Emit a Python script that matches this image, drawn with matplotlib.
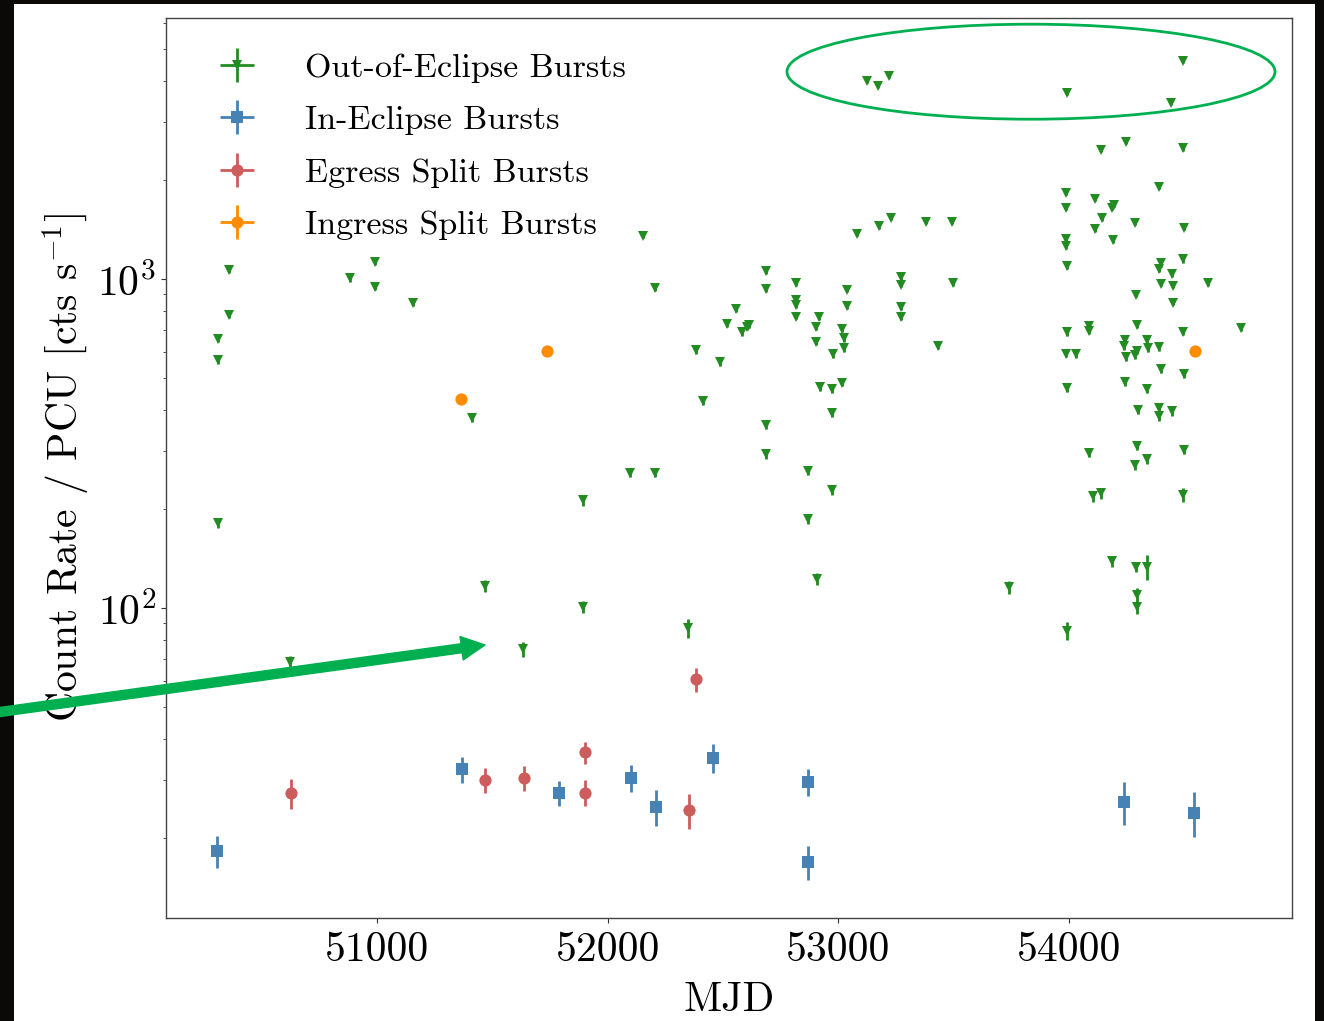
import matplotlib
matplotlib.use('Agg')
import matplotlib.pyplot as plt
from matplotlib.patches import Ellipse, Rectangle, FancyArrowPatch

# ---------------- data ----------------
green_mjd = [
    50309, 50309, 50357, 50357, 50309, 50623, 50884, 50991, 50991, 51157,
    51411, 51468, 51632, 51895, 51895, 52097, 52206, 52152, 52206, 52350,
    52382, 52415, 52488, 52517, 52556, 52615, 52603, 52584, 52687, 52687,
    52686, 52686, 52819, 52819, 52819, 52819, 52868, 52868, 52908, 52917,
    52904, 52904, 52923, 52972, 53015, 52972, 52973, 52976, 53015, 53027,
    53027, 53039, 53039, 53083, 53178, 53228, 53379, 53494, 53272, 53272,
    53272, 53274, 53497, 53432, 53742, 53989, 53989, 53990, 53989, 53991,
    53993, 53989, 54032, 53991, 53991, 54088, 54088, 54089, 54104, 54140,
    54115, 54115, 54140, 54144, 54188, 54198, 54191, 54186, 54242, 54239,
    54247, 54242, 54248, 54287, 54292, 54297, 54296, 54287, 54298, 54295,
    54287, 54292, 54295, 54295, 54338, 54345, 54340, 54339, 54338, 54392,
    54392, 54399, 54392, 54449, 54497, 54399, 54451, 54603, 54451, 54400,
    54501, 54392, 54392, 54449, 54498, 54495, 54497, 54501, 54495, 54746,
    53126, 53172, 53221, 53991, 54497, 54442]
green_rate = [
    659, 568, 1067, 779, 182, 68.5, 1007, 1131, 946, 845,
    380, 117, 75.0, 213, 101, 258, 258, 1357, 939, 86.9,
    610, 427, 559, 731, 811, 726, 717, 690, 1062, 932,
    361, 294, 972, 868, 834, 771, 262, 187, 123, 770,
    717, 646, 470, 463, 485, 393, 229, 593, 705, 662,
    617, 931, 829, 1375, 1452, 1541, 1496, 1496, 1016, 961,
    823, 770, 972, 628, 116, 1825, 1651, 1322, 1265, 1098,
    690, 594, 593, 466, 85.5, 721, 699, 297, 219, 224,
    1752, 1419, 2478, 1532, 1653, 1688, 1318, 139, 652, 626,
    579, 487, 2619, 1486, 896, 729, 607, 587, 401, 311,
    272, 134, 110, 101, 652, 617, 465, 284, 134, 1904,
    622, 1118, 1075, 1040, 1150, 970, 954, 972, 850, 533,
    515, 406, 383, 397, 304, 221, 2501, 1434, 691, 712,
    4006, 3869, 4150, 3692, 4617, 3441]
green_err = [
    15, 15, 25, 15, 6, 3, 25, 25, 15, 15,
    12, 5, 3.8, 8, 4.3, 8, 8, 25, 15, 5.6,
    15, 12, 15, 15, 15, 15, 15, 15, 25, 15,
    10, 9, 15, 15, 15, 15, 8, 7, 5.5, 15,
    15, 15, 12, 12, 12, 12, 8, 15, 15, 15,
    15, 15, 15, 25, 25, 25, 25, 25, 25, 15,
    15, 15, 15, 15, 5.5, 25, 25, 25, 25, 25,
    15, 15, 15, 12, 5.5, 15, 15, 9, 9, 9,
    25, 25, 40, 25, 25, 25, 25, 5.6, 15, 15,
    15, 12, 40, 25, 15, 15, 15, 15, 12, 9,
    9, 4.8, 5, 5, 15, 15, 12, 9, 11.7, 25,
    15, 25, 25, 25, 25, 15, 15, 15, 15, 12,
    12, 12, 12, 12, 9, 10.6, 40, 25, 15, 15,
    60, 60, 60, 60, 60, 60]

blue_mjd = [50308, 51367, 51791, 52102, 52212, 52458, 52868, 52868, 54238, 54543]
blue_rate = [18.3, 32.4, 27.5, 30.6, 24.9, 35.1, 29.7, 16.9, 25.8, 23.9]
blue_err = [2.0, 3.0, 2.4, 2.9, 3.1, 3.6, 2.9, 2.0, 3.9, 3.75]

red_mjd = [50626, 51470, 51636, 51900, 51900, 52355, 52382]
red_rate = [27.4, 30.1, 30.5, 36.5, 27.5, 24.3, 60.8]
red_err = [2.8, 2.65, 2.6, 2.85, 2.5, 3.0, 5.0]

orange_mjd = [51363, 51736, 54548]
orange_rate = [433, 605, 605]
orange_err = [10, 12, 12]

labels = ['Out-of-Eclipse Bursts', 'In-Eclipse Bursts',
          'Egress Split Bursts', 'Ingress Split Bursts']
x_ticks = [51000, 52000, 53000, 54000]

# ---------------- style ----------------
plt.rcParams['font.family'] = 'serif'
plt.rcParams['font.serif'] = ['cmr10']
plt.rcParams['mathtext.fontset'] = 'cm'
plt.rcParams['axes.formatter.use_mathtext'] = True
plt.rcParams['axes.unicode_minus'] = False

W, H = 1324, 1021
fig = plt.figure(figsize=(W / 100, H / 100), dpi=100)
fig.patch.set_facecolor('#0b0907')
fig.add_artist(Rectangle((14 / W, 0), (1315 - 14) / W, (H - 4) / H,
                         transform=fig.transFigure, facecolor='white',
                         edgecolor='none', zorder=-10))

ax = fig.add_axes([166 / W, 1 - 918 / H, (1292 - 166) / W, (918 - 18) / H])

common = dict(capsize=0, elinewidth=2.0, markeredgewidth=0, linestyle='none')
ax.errorbar(green_mjd, green_rate, yerr=green_err, xerr=1, fmt='v',
            color='#228B22', ms=7.4, label=labels[0], zorder=3, **common)
ax.errorbar(blue_mjd, blue_rate, yerr=blue_err, xerr=1, fmt='s',
            color='#4682B4', ms=8.6, label=labels[1], zorder=4, **common)
ax.errorbar(red_mjd, red_rate, yerr=red_err, xerr=1, fmt='o',
            color='#CD5C5C', ms=8.8, label=labels[2], zorder=4, **common)
ax.errorbar(orange_mjd, orange_rate, yerr=orange_err, xerr=1, fmt='o',
            color='#FF8C00', ms=8.8, label=labels[3], zorder=4, **common)

ax.set_yscale('log')
ax.set_xlim(50085, 54968)
ax.set_ylim(11.45, 6230)
ax.set_xticks(x_ticks)
ax.set_xticklabels([str(t) for t in x_ticks])
ax.tick_params(which='both', direction='out', top=False, right=False,
               labelsize=30, color='#333333')
ax.tick_params(axis='x', which='both', pad=6.5)
for sp in ax.spines.values():
    sp.set_color('#444444')
    sp.set_linewidth(1.0)

ax.set_xlabel('MJD', fontsize=30, labelpad=9)
ax.set_ylabel(r'Count Rate / PCU [cts s$^{-1}$]', fontsize=30, labelpad=4)

ax.legend(loc='upper left', frameon=False, fontsize=24.5,
          handletextpad=0.98, labelspacing=0.66,
          bbox_to_anchor=(0.006, 0.995))

# annotations
fig.add_artist(Ellipse((1031 / W, 1 - 71.7 / H), 488 / W, 95 / H,
                       transform=fig.transFigure, fill=False,
                       edgecolor='#00B050', lw=2.0, zorder=10))
fig.add_artist(FancyArrowPatch((-5 / W, 1 - 712.7 / H), (485 / W, 1 - 645 / H),
                               transform=fig.transFigure,
                               arrowstyle='simple,head_length=17,head_width=17,tail_width=6.5',
                               mutation_scale=1, color='#00B050',
                               shrinkA=0, shrinkB=0, zorder=10))

fig.savefig('out.png', dpi=100, facecolor=fig.get_facecolor())
